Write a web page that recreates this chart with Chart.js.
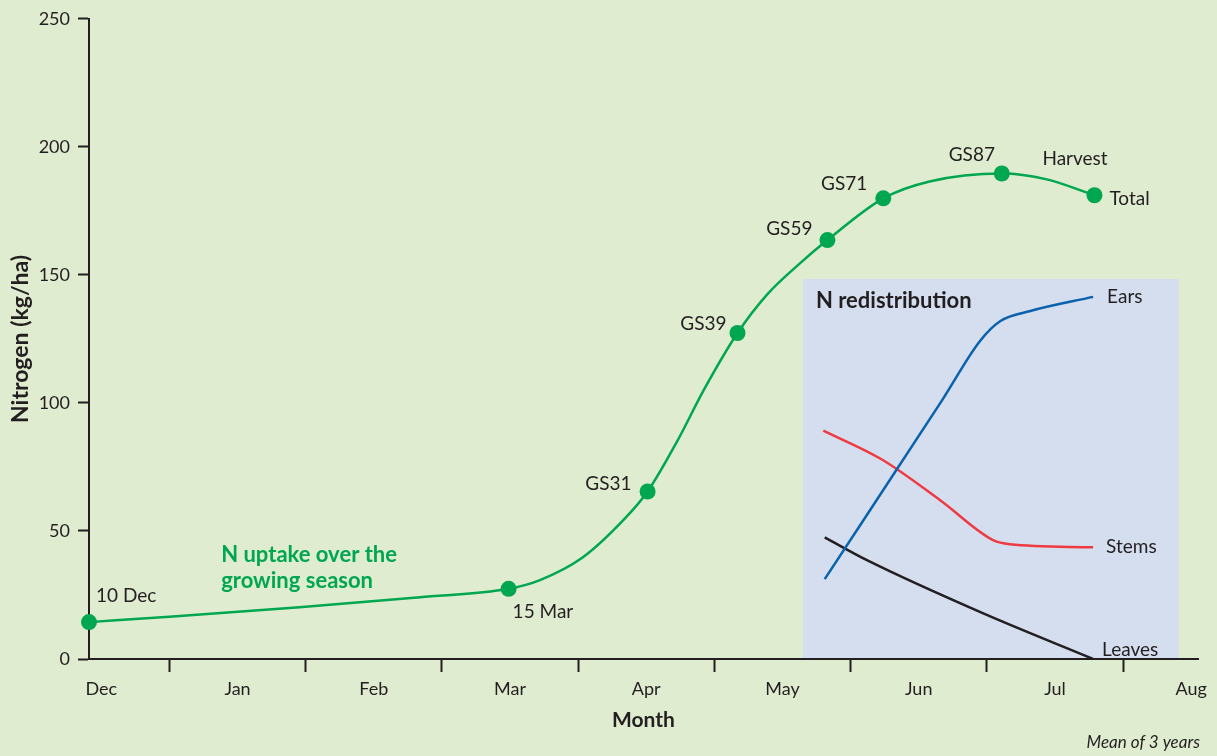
<!DOCTYPE html>
<html>
<head>
<meta charset="utf-8">
<title>N uptake over the growing season</title>
<script src="https://cdn.jsdelivr.net/npm/chart.js@4"></script>
<style>
  html, body { margin: 0; padding: 0; background: #dfecd0; }
  #wrap { width: 1217px; height: 756px; }
</style>
</head>
<body>
<div id="wrap"><canvas id="n-chart" width="1217" height="756"></canvas></div>
<script>
// x is months counted from 1 Dec (1 = 1 Jan, 2 = 1 Feb ...)
var monthLabels = ['Dec', 'Jan', 'Feb', 'Mar', 'Apr', 'May', 'Jun', 'Jul', 'Aug'];
var yTicks = [0, 50, 100, 150, 200, 250];

// total N uptake curve
var totalX = [0.41, 1.0, 1.955, 2.84, 3.49, 3.72, 4.03, 4.33, 4.51, 4.73, 4.92, 5.17, 5.39, 5.63, 5.83, 6.24, 6.58, 7.11, 7.44, 7.79];
var totalY = [14.4, 16.5, 20.2, 24.1, 27.4, 30.8, 39.5, 54.1, 65.4, 85.3, 104.8, 127.3, 142.5, 154.6, 163.6, 179.9, 186.5, 189.6, 187.3, 181.1];

// sampling dates / growth stages (the dots)
var stageNames = ['10 Dec', '15 Mar', 'GS31', 'GS39', 'GS59', 'GS71', 'GS87', 'Total'];
var stageX = [0.41, 3.49, 4.51, 5.17, 5.83, 6.24, 7.11, 7.79];
var stageY = [14.4, 27.4, 65.4, 127.3, 163.6, 179.9, 189.6, 181.1];

// N redistribution between plant parts
var earsX = [5.81, 6.67, 6.95, 7.10, 7.32, 7.78];
var earsY = [31.2, 100.9, 124.2, 132.0, 135.9, 141.4];
var stemsX = [5.80, 6.23, 6.66, 7.05, 7.17, 7.78];
var stemsY = [89.2, 77.9, 61.9, 46.3, 44.8, 43.6];
var leavesX = [5.81, 6.12, 6.97, 7.78];
var leavesY = [47.5, 38.6, 17.9, 0];

// extent of the redistribution panel
var insetX = [5.65, 8.41];
var insetY = [0, 148.4];

var ink = '#231f20';
var green = '#00a650';
var fontName = 'Lato, "Open Sans", sans-serif';

function pts(xs, ys) {
  return xs.map(function (x, i) { return { x: x, y: ys[i] }; });
}

function curve(label, xs, ys, color) {
  return {
    label: label,
    data: pts(xs, ys),
    showLine: true,
    borderColor: color,
    borderWidth: 2.5,
    pointRadius: 0,
    cubicInterpolationMode: 'monotone',
    clip: false
  };
}

// background, the blue panel and all the text notes
var notes = {
  id: 'notes',
  beforeDraw: function (chart) {
    var c = chart.ctx, xs = chart.scales.x, ys = chart.scales.y;
    c.save();
    c.fillStyle = '#dfecd0';
    c.fillRect(0, 0, chart.width, chart.height);
    var l = xs.getPixelForValue(insetX[0]), r = xs.getPixelForValue(insetX[1]);
    var t = ys.getPixelForValue(insetY[1]), b = ys.getPixelForValue(insetY[0]);
    c.fillStyle = '#d4deef';
    c.fillRect(l, t, r - l, b - t - 1);
    c.restore();
  },
  afterDraw: function (chart) {
    var c = chart.ctx, xs = chart.scales.x, ys = chart.scales.y;
    function txt(s, px, py, align, font, color) {
      c.font = font;
      c.fillStyle = color || ink;
      c.textAlign = align;
      c.textBaseline = 'middle';
      c.fillText(s, px, py);
    }
    c.save();
    var plain = '19px ' + fontName;
    var bold = 'bold 22px ' + fontName;
    var nudge = [[7, -26, 'left'], [4, 23, 'left'], [-16, -8, 'right'], [-11, -9, 'right'],
                 [-15, -11, 'right'], [-16, -14, 'right'], [-30, -19, 'center'], [15, 4, 'left']];
    stageNames.forEach(function (name, i) {
      var px = xs.getPixelForValue(stageX[i]), py = ys.getPixelForValue(stageY[i]);
      txt(name, px + nudge[i][0], py + nudge[i][1], nudge[i][2], plain);
    });
    var last = stageNames.length - 1;
    txt('Harvest', xs.getPixelForValue(stageX[last]) - 52, ys.getPixelForValue(stageY[last]) - 36, 'left', plain);

    txt('Ears', xs.getPixelForValue(earsX[earsX.length - 1]) + 14, ys.getPixelForValue(earsY[earsY.length - 1]), 'left', plain);
    txt('Stems', xs.getPixelForValue(stemsX[stemsX.length - 1]) + 13, ys.getPixelForValue(stemsY[stemsY.length - 1]), 'left', plain);
    txt('Leaves', xs.getPixelForValue(leavesX[leavesX.length - 1]) + 9, ys.getPixelForValue(leavesY[leavesY.length - 1]) - 9, 'left', plain);

    txt('N redistribution', xs.getPixelForValue(insetX[0]) + 13, ys.getPixelForValue(insetY[1]) + 22, 'left', bold);

    var ux = xs.getPixelForValue(1.38), uy = ys.getPixelForValue(40.5);
    txt('N uptake over the', ux, uy, 'left', bold, green);
    txt('growing season', ux, uy + 26, 'left', bold, green);

    txt('Mean of 3 years', chart.width - 17, chart.height - 13, 'right', 'italic 17px ' + fontName);
    c.restore();
  }
};

var ctx = document.getElementById('n-chart');
var nChart = new Chart(ctx, {
  type: 'scatter',
  data: {
    datasets: [
      curve('Ears', earsX, earsY, '#0a62ad'),
      curve('Stems', stemsX, stemsY, '#ee3b42'),
      curve('Leaves', leavesX, leavesY, ink),
      curve('Total', totalX, totalY, green),
      {
        label: 'Stages',
        data: pts(stageX, stageY),
        pointRadius: 8,
        pointBackgroundColor: green,
        pointBorderWidth: 0,
        clip: false
      }
    ]
  },
  options: {
    responsive: false,
    animation: false,
    layout: { padding: { top: 17, right: 19, left: 0, bottom: 0 } },
    plugins: {
      legend: { display: false },
      tooltip: { enabled: false }
    },
    scales: {
      x: {
        type: 'linear',
        min: 0.41,
        max: 8.55,
        afterBuildTicks: function (scale) {
          var t = [];
          for (var v = 0.5; v <= 8.5; v += 0.5) t.push({ value: v });
          scale.ticks = t;
        },
        afterFit: function (scale) { scale.height = 97; },
        border: { color: ink, width: 2 },
        grid: {
          drawOnChartArea: false,
          tickLength: 13,
          tickWidth: 2,
          tickColor: function (c) {
            return c.tick && Number.isInteger(c.tick.value) ? ink : 'rgba(0,0,0,0)';
          }
        },
        ticks: {
          autoSkip: false,
          maxRotation: 0,
          padding: 6,
          color: ink,
          font: { family: fontName, size: 18 },
          callback: function (v) {
            return Number.isInteger(v) ? '' : monthLabels[Math.floor(v)];
          }
        },
        title: {
          display: true,
          text: 'Month',
          color: ink,
          font: { family: fontName, size: 21, weight: 'bold' },
          padding: { top: 0, bottom: 23 }
        }
      },
      y: {
        min: yTicks[0],
        max: yTicks[yTicks.length - 1],
        afterBuildTicks: function (scale) {
          scale.ticks = yTicks.map(function (v) { return { value: v }; });
        },
        afterFit: function (scale) { scale.width = 89; },
        border: { color: ink, width: 2 },
        grid: {
          drawOnChartArea: false,
          tickLength: 11,
          tickWidth: 2,
          tickColor: ink
        },
        ticks: {
          padding: 8,
          color: ink,
          font: { family: fontName, size: 18 }
        },
        title: {
          display: true,
          text: 'Nitrogen (kg/ha)',
          color: ink,
          font: { family: fontName, size: 23, weight: 'bold' },
          padding: { top: 7, bottom: 0 }
        }
      }
    }
  },
  plugins: [notes]
});
</script>
</body>
</html>
